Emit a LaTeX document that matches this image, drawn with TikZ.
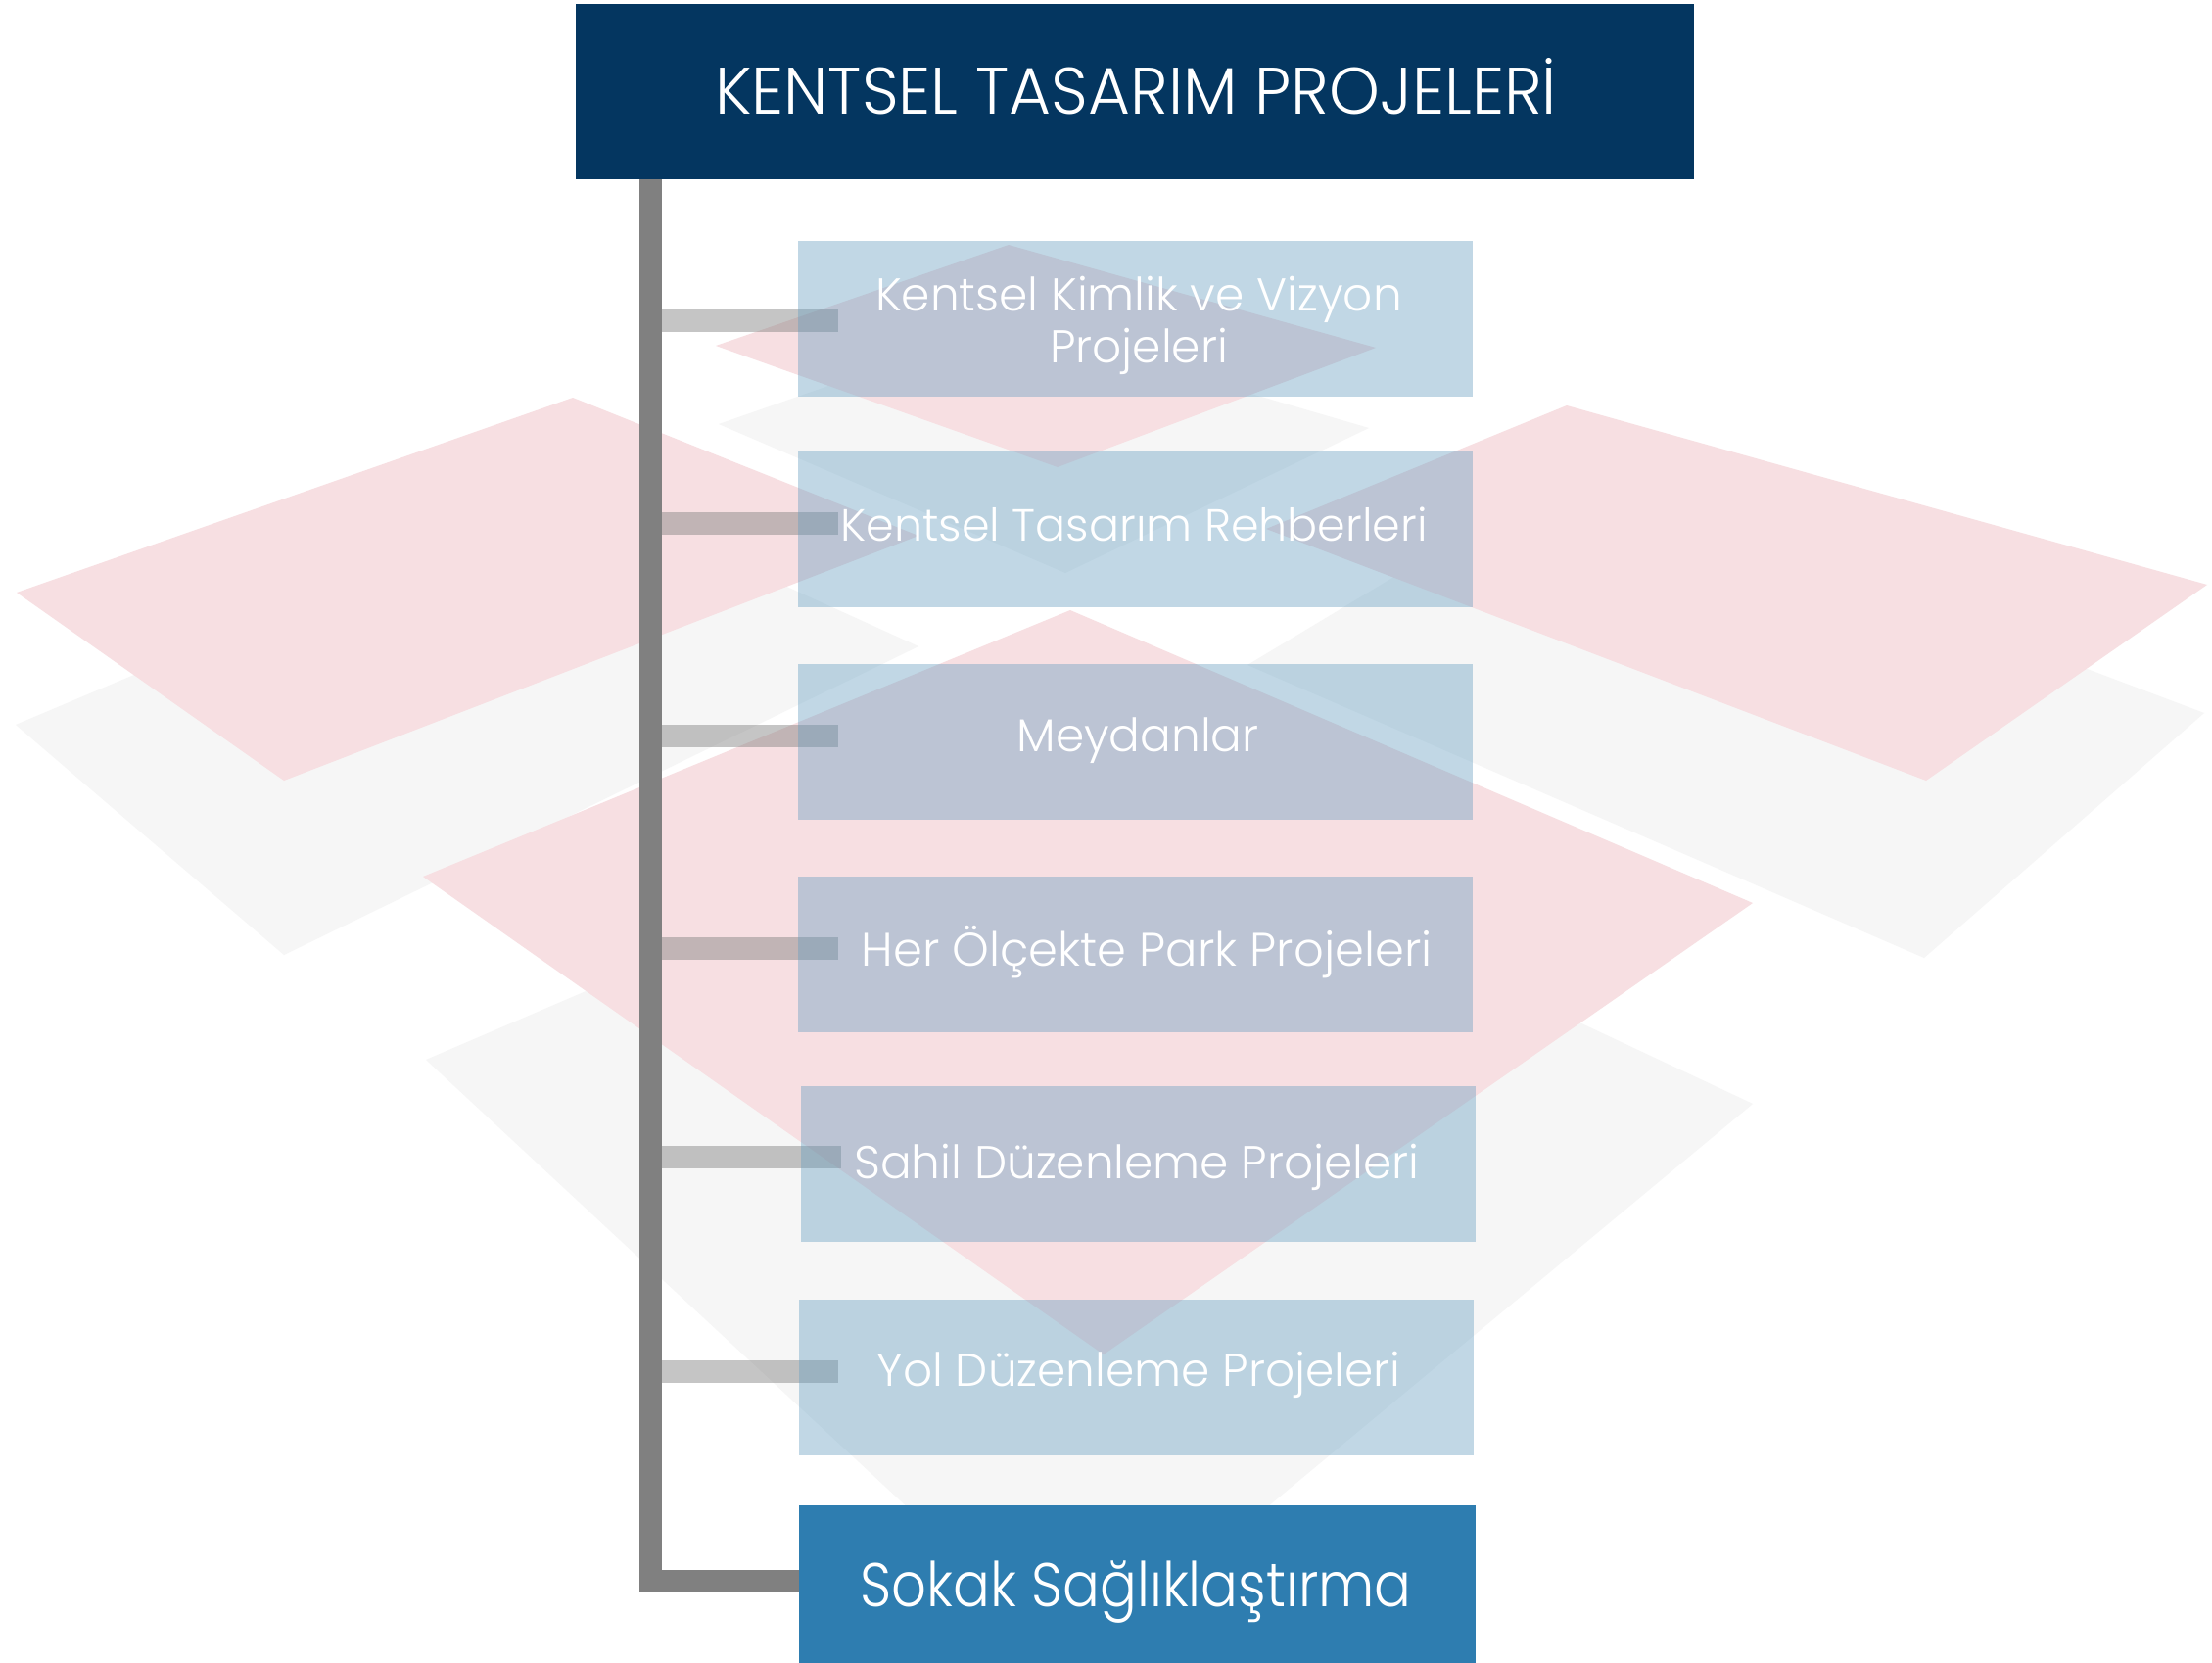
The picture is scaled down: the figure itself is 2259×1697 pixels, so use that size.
\documentclass[tikz,border=0pt]{standalone}
\usepackage{fontspec}
\setmainfont{Poppins}
\newfontfamily\titlefont{Poppins Light}[FakeStretch=0.98]
\newfontfamily\boxfont{Poppins Light}
\newfontfamily\sokakfont{Poppins Light}[FakeStretch=0.89]
\definecolor{navy}{RGB}{4,54,96}
\definecolor{trunkgray}{RGB}{128,128,128}
\definecolor{boxblue}{RGB}{100,157,192}
\definecolor{pinkbg}{RGB}{247,223,226}
\definecolor{graybg}{RGB}{246,246,246}
\definecolor{sokakblue}{RGB}{46,125,176}
\pgfdeclarelayer{bg}
\pgfdeclarelayer{stubs}
\pgfsetlayers{bg,stubs,main}
\begin{document}
\begin{tikzpicture}[x=0.5pt,y=-0.5pt,
  itembox/.style={rectangle, fill=boxblue, fill opacity=0.4, draw=none,
    minimum width=344.5pt, minimum height=79.5pt, inner sep=0pt},
  lbl/.style={text=white, inner sep=0pt, font=\boxfont\fontsize{23.5}{26}\selectfont,
    text height=16.4pt, text depth=0pt, anchor=center},
  trunk/.style={draw=trunkgray, line width=11.5pt, line join=miter, line cap=butt},
  stub/.style={draw=trunkgray, draw opacity=0.45, line width=11.5pt, shorten >=-20.5pt}]
\useasboundingbox (0,0) rectangle (2259,1697);

% background layered planes
\begin{pgfonlayer}{bg}
\fill[white] (0,0) rectangle (2259,1697);
\fill[graybg] (734,433) -- (1030,330) -- (1398,437) -- (1088,585) -- cycle;
\fill[graybg] (16,740) -- (585,500) -- (938,660) -- (290,975) -- cycle;
\fill[graybg] (435,1082) -- (1093,800) -- (1790,1127) -- (1100,1700) -- cycle;
\fill[graybg] (1274,679) -- (1600,483) -- (2251,728) -- (1965,978) -- cycle;
\fill[pinkbg] (731,353) -- (1030,250) -- (1405,355) -- (1080,477) -- cycle;
\fill[pinkbg] (17,605) -- (585,406) -- (938,547) -- (290,797) -- cycle;
\fill[pinkbg] (432,895) -- (1093,623) -- (1790,922) -- (1127,1383) -- cycle;
\fill[pinkbg] (1293,540) -- (1600,414) -- (2254,597) -- (1967,797) -- cycle;
\end{pgfonlayer}

% title
\node[rectangle, fill=navy, minimum width=571pt, minimum height=89.5pt, inner sep=0pt]
  (title) at (1159,93.5) {};
\node[text=white, inner sep=0pt, font=\titlefont\fontsize{33.6}{40}\selectfont,
  text height=23.5pt, text depth=0pt] (titletext) at (1160,93) {KENTSEL TASARIM PROJELERİ};

% item boxes
\node[itembox] (b1) at (1159.5,325.5) {};
\node[itembox] (b2) at (1159.5,540.5) {};
\node[itembox] (b3) at (1159.5,757.5) {};
\node[itembox] (b4) at (1159.5,974) {};
\node[itembox] (b5) at (1162.5,1188.5) {};
\node[itembox] (b6) at (1160,1406.5) {};
\node[rectangle, fill=sokakblue, draw=none, minimum width=345.5pt, minimum height=82pt,
  inner sep=0pt] (b7) at (1161.5,1619) {};

\node[text=white, inner sep=0pt, align=center, font=\boxfont\fontsize{23.5}{26.5}\selectfont]
  (l1) at (1163,332) {Kentsel Kimlik ve Vizyon\\Projeleri};
\node[lbl, font=\boxfont\fontsize{23}{26}\selectfont] (l2) at (1158,536) {Kentsel Tasarım Rehberleri};
\node[lbl] (l3) at (1162,751) {Meydanlar};
\node[lbl, font=\boxfont\fontsize{24}{26}\selectfont] (l4) at (1171,970) {Her Ölçekte Park Projeleri};
\node[lbl] (l5) at (1161,1187) {Sahil Düzenleme Projeleri};
\node[lbl] (l6) at (1163,1399) {Yol Düzenleme Projeleri};
\node[lbl, font=\sokakfont\fontsize{31.5}{36}\selectfont, text height=22pt] (l7) at (1160,1618)
  {Sokak Sağlıklaştırma};

% trunk
\coordinate (tx) at (664,0);
\draw[trunk] (title.south -| tx) |- ([yshift=2.5pt]b7.west);

% stubs
\coordinate (j1) at (676,327);
\coordinate (j2) at (676,534);
\coordinate (j3) at (676,751);
\coordinate (j4) at (676,968);
\coordinate (j5) at (676,1181);
\coordinate (j6) at (676,1400);
\begin{pgfonlayer}{stubs}
\draw[stub] (j1) -- (j1 -| b1.west);
\draw[stub] (j2) -- (j2 -| b2.west);
\draw[stub] (j3) -- (j3 -| b3.west);
\draw[stub] (j4) -- (j4 -| b4.west);
\draw[stub] (j5) -- (j5 -| b5.west);
\draw[stub] (j6) -- (j6 -| b6.west);
\end{pgfonlayer}
\end{tikzpicture}
\end{document}
